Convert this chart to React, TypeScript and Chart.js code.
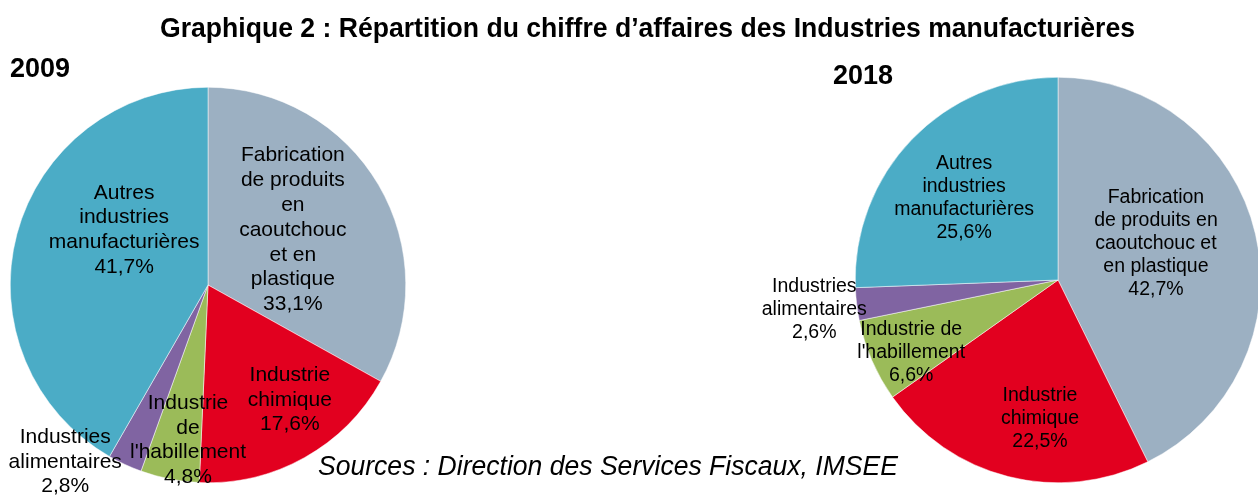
import React, { useEffect, useRef } from "react";
import { Chart, registerables } from "chart.js";

Chart.register(...registerables);

// ---- Data ----
const categories = [
  "Fabrication de produits en caoutchouc et en plastique",
  "Industrie chimique",
  "Industrie de l'habillement",
  "Industries alimentaires",
  "Autres industries manufacturières",
];
const values2009 = [33.1, 17.6, 4.8, 2.8, 41.7];
const values2018 = [42.7, 22.5, 6.6, 2.6, 25.6];
const sliceColors = ["#9CB0C2", "#E2001F", "#9BBB59", "#8064A2", "#4BACC6"];

const titleText = "Graphique 2 : Répartition du chiffre d’affaires des Industries manufacturières";
const year1 = "2009";
const year2 = "2018";
const sourceText = "Sources : Direction des Services Fiscaux, IMSEE";

// wrapped label lines (layout)
const lines2009 = [
  ["Fabrication", "de produits", "en", "caoutchouc", "et en", "plastique"],
  ["Industrie", "chimique"],
  ["Industrie", "de", "l'habillement"],
  ["Industries", "alimentaires"],
  ["Autres", "industries", "manufacturières"],
];
const lines2018 = [
  ["Fabrication", "de produits en", "caoutchouc et", "en plastique"],
  ["Industrie", "chimique"],
  ["Industrie de", "l'habillement"],
  ["Industries", "alimentaires"],
  ["Autres", "industries", "manufacturières"],
];
// label block centre offsets, in units of the pie radius
const offsets2009 = [
  [0.429, -0.278],
  [0.414, 0.581],
  [-0.101, 0.785],
  [-0.722, 0.894],
  [-0.424, -0.278],
];
const offsets2018 = [
  [0.483, -0.177],
  [-0.089, 0.685],
  [-0.724, 0.36],
  [-1.202, 0.148],
  [-0.463, -0.404],
];

const FONT = '"Liberation Sans", Arial, Helvetica, sans-serif';

const fmt = (v: number) => v.toFixed(1).replace(".", ",") + "%";

function makeLabelPlugin(
  lines: string[][],
  offsets: number[][],
  values: number[],
  fontSize: number,
  lineHeight: number,
  drawStatic: boolean
) {
  return {
    id: "sliceLabels",
    afterDraw(chart: any) {
      const ctx = chart.ctx;
      const meta = chart.getDatasetMeta(0);
      ctx.save();
      ctx.fillStyle = "#000";
      ctx.textAlign = "center";
      ctx.textBaseline = "middle";
      ctx.font = `${fontSize}px ${FONT}`;
      meta.data.forEach((arc: any, i: number) => {
        const r = arc.outerRadius;
        const cx = arc.x + offsets[i][0] * r;
        const cy = arc.y + offsets[i][1] * r;
        const all = [...lines[i], fmt(values[i])];
        const y0 = cy - ((all.length - 1) * lineHeight) / 2;
        all.forEach((t, k) => ctx.fillText(t, cx, y0 + k * lineHeight));
      });
      if (drawStatic) {
        ctx.font = `bold 28px ${FONT}`;
        ctx.textAlign = "center";
        ctx.fillText(titleText, 647.5, 29, 975);
        ctx.textAlign = "left";
        ctx.font = `bold 27px ${FONT}`;
        ctx.fillText(year1, 10, 70);
        ctx.fillText(year2, 833, 77);
        ctx.font = `italic 27px ${FONT}`;
        ctx.fillText(sourceText, 318, 467, 580);
      }
      ctx.restore();
    },
  };
}

function makeConfig(values: number[], padding: any, plugin: any): any {
  return {
    type: "pie",
    data: {
      labels: categories,
      datasets: [
        {
          data: values,
          backgroundColor: sliceColors,
          borderColor: "#ffffff",
          borderWidth: 0.5,
        },
      ],
    },
    options: {
      responsive: false,
      animation: false,
      devicePixelRatio: 1,
      layout: { padding },
      plugins: {
        legend: { display: false },
        tooltip: { enabled: false },
        title: { display: false },
      },
    },
    plugins: [plugin],
  };
}

export default function App() {
  const ref1 = useRef<HTMLCanvasElement>(null);
  const ref2 = useRef<HTMLCanvasElement>(null);

  useEffect(() => {
    const c1 = new Chart(
      ref1.current!,
      makeConfig(
        values2009,
        { left: 10, right: 852, top: 87, bottom: 12 },
        makeLabelPlugin(lines2009, offsets2009, values2009, 21, 24.8, true)
      )
    );
    const c2 = new Chart(
      ref2.current!,
      makeConfig(
        values2018,
        { left: 855, right: 9, top: 77, bottom: 12 },
        makeLabelPlugin(lines2018, offsets2018, values2018, 19.5, 23, false)
      )
    );
    return () => {
      c1.destroy();
      c2.destroy();
    };
  }, []);

  return (
    <div
      style={{
        position: "absolute",
        left: 0,
        top: 0,
        width: 1258,
        height: 495,
        overflow: "hidden",
        background: "#fff",
      }}
    >
      <canvas
        ref={ref2}
        width={1270}
        height={495}
        style={{ position: "absolute", left: 0, top: 0 }}
      />
      <canvas
        ref={ref1}
        width={1258}
        height={495}
        style={{ position: "absolute", left: 0, top: 0 }}
      />
    </div>
  );
}
